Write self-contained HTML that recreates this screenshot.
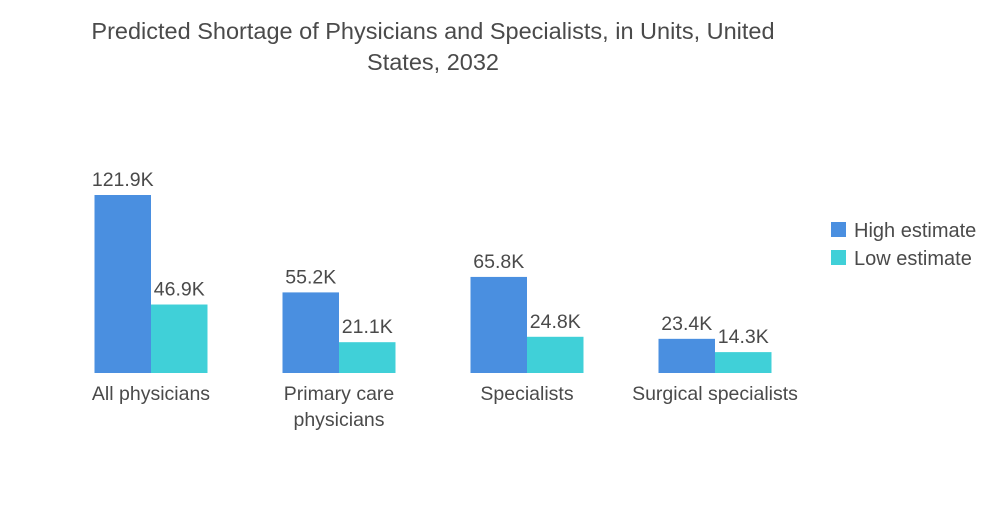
<!DOCTYPE html>
<html><head><meta charset="utf-8"><style>
body{margin:0;background:#fff;font-family:"Liberation Sans",sans-serif;}
svg text{font-family:"Liberation Sans",sans-serif;fill:#4a4a4a;}
</style></head><body>
<svg width="1000" height="504">
<text x="433" y="39" text-anchor="middle" font-size="23.5" fill="#595959">Predicted Shortage of Physicians and Specialists, in Units, United</text>
<text x="433" y="70" text-anchor="middle" font-size="23.5" fill="#595959">States, 2032</text>
<g id="bars"></g>
<rect x="831" y="222" width="15" height="15" fill="#4a8fe0"/>
<text x="854" y="237" font-size="20">High estimate</text>
<rect x="831" y="250" width="15" height="15" fill="#40d0d8"/>
<text x="854" y="265" font-size="20">Low estimate</text>
</svg>
<script>
const categories=[["All physicians"],["Primary care","physicians"],["Specialists"],["Surgical specialists"]];
const highValues=[121.9,55.2,65.8,23.4];
const lowValues=[46.9,21.1,24.8,14.3];
const base=373, scale=178/121.9, bw=56.5, centers=[151,339,527,715];
const y=v=>base-v*scale;
const g=document.getElementById('bars');
const NS='http://www.w3.org/2000/svg';
function mk(t,a){const e=document.createElementNS(NS,t);for(const k in a)e.setAttribute(k,a[k]);g.appendChild(e);return e;}
categories.forEach((c,i)=>{
  [[highValues[i],'#4a8fe0',-bw,'high'],[lowValues[i],'#40d0d8',0,'low']].forEach(([v,col,off,n])=>{
    const r=mk('rect',{x:centers[i]+off,y:y(v),width:bw,height:base-y(v),fill:col});
    
    
    const t=mk('text',{x:centers[i]+off+bw/2,y:y(v)-9,'text-anchor':'middle','font-size':'19.5'});
    t.textContent=v.toFixed(1)+'K';
    
    
  });
  c.forEach((line,j)=>{
    const t=mk('text',{x:centers[i],y:400+j*26,'text-anchor':'middle','font-size':'19.5'});
    t.textContent=line;
    
    
  });
});
</script>
</body></html>
